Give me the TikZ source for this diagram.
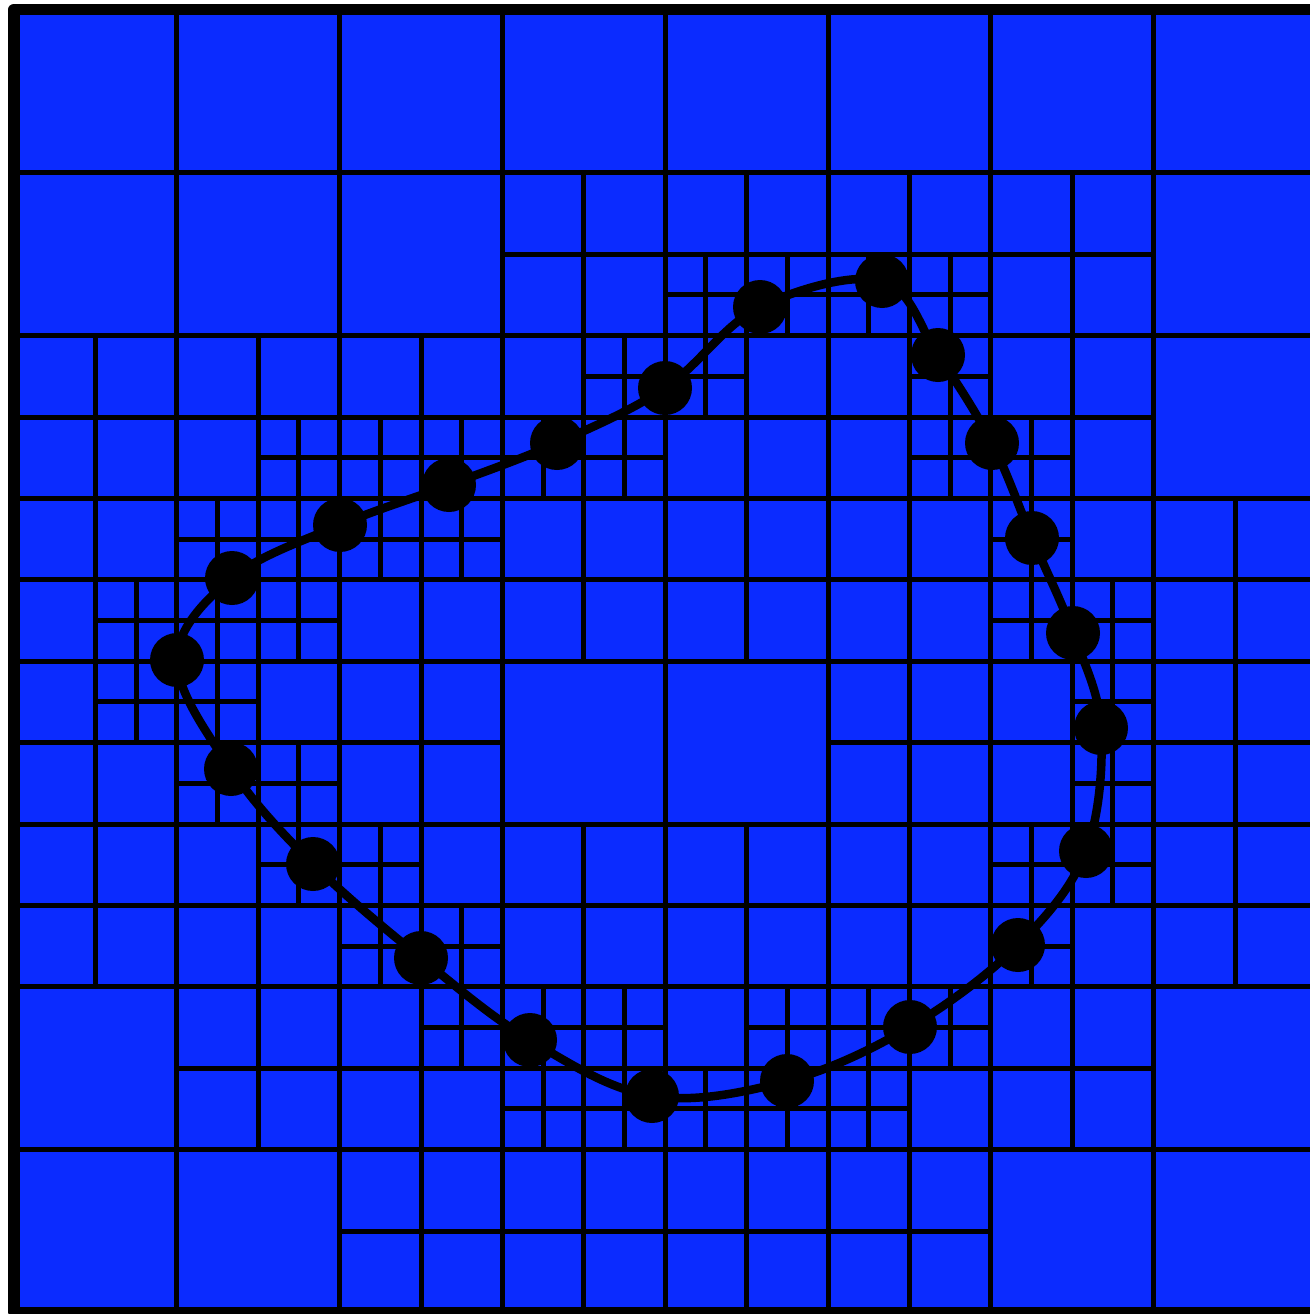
\documentclass[tikz,border=0pt]{standalone}
\definecolor{qblue}{RGB}{11,43,255}
\begin{document}
\begin{tikzpicture}[x=1pt,y=-1pt,
  gridline/.style={line width=5pt, black},
  dot/.style={circle, fill=black, draw=none, inner sep=0pt, minimum size=54pt},
  curveline/.style={line width=8.5pt, black, line join=round}]
\useasboundingbox (0,0) rectangle (1309,1314);
\def\U{162.8}
\def\H{81.4}
\fill[qblue] (14,10) rectangle (1316.4,1312.4);
% coarse grid
\foreach \i in {1,...,7}{
  \draw[gridline] ({14+\i*\U},10) -- ({14+\i*\U},1312.4);
  \draw[gridline] (14,{10+\i*\U}) -- (1316.4,{10+\i*\U});
}
% level-1 subdivisions (coarse cells split in four)
\foreach \c/\r in {3/1,4/1,5/1,6/1,
  0/2,1/2,2/2,3/2,4/2,5/2,6/2,
  0/3,1/3,2/3,3/3,4/3,5/3,6/3,7/3,
  0/4,1/4,2/4,5/4,6/4,7/4,
  0/5,1/5,2/5,3/5,4/5,5/5,6/5,7/5,
  1/6,2/6,3/6,4/6,5/6,6/6,
  2/7,3/7,4/7,5/7}{
  \draw[gridline] ({14+(\c+0.5)*\U},{10+\r*\U}) -- ++(0,\U)
                  ({14+\c*\U},{10+(\r+0.5)*\U}) -- ++(\U,0);
}
% level-2 subdivisions (half cells split in four)
\foreach \c/\r in {8/3,9/3,10/3,11/3,
  3/5,4/5,5/5,7/4,6/5,7/5,8/4,11/4,11/5,12/5,
  1/7,2/6,3/6,2/7,3/7,4/6,5/6,12/6,12/7,13/7,
  1/8,2/8,2/9,3/9,13/8,13/9,
  3/10,4/10,4/11,5/11,12/10,13/10,12/11,
  5/12,6/12,7/12,6/13,7/13,9/12,8/13,9/13,10/12,11/12,10/13}{
  \draw[gridline] ({14+(\c+0.5)*\H},{10+\r*\H}) -- ++(0,\H)
                  ({14+\c*\H},{10+(\r+0.5)*\H}) -- ++(\H,0);
}
% outer frame
\draw[line width=11.5pt, line join=round] (14,9.5) rectangle (1316.4,1312.4);
% points on the curve
\node[dot] (n1)  at (177,660) {};
\node[dot] (n2)  at (232,578) {};
\node[dot] (n3)  at (340,525) {};
\node[dot] (n4)  at (449,485) {};
\node[dot] (n5)  at (557,443) {};
\node[dot] (n6)  at (665,388) {};
\node[dot] (n7)  at (760,307) {};
\node[dot] (n8)  at (882,281) {};
\node[dot] (n9)  at (938,355) {};
\node[dot] (n10) at (992,443) {};
\node[dot] (n11) at (1032,538) {};
\node[dot] (n12) at (1073,633) {};
\node[dot] (n13) at (1101,728) {};
\node[dot] (n14) at (1086,851) {};
\node[dot] (n15) at (1018,945) {};
\node[dot] (n16) at (910,1027) {};
\node[dot] (n17) at (787,1081) {};
\node[dot] (n18) at (652,1096) {};
\node[dot] (n19) at (530,1040) {};
\node[dot] (n20) at (421,958) {};
\node[dot] (n21) at (313,864) {};
\node[dot] (n22) at (231,769) {};
\draw[curveline] plot[smooth cycle, tension=0.6] coordinates {
  (n1.center) (n2.center) (n3.center) (n4.center) (n5.center) (n6.center)
  (n7.center) (n8.center) (n9.center) (n10.center) (n11.center) (n12.center)
  (n13.center) (n14.center) (n15.center) (n16.center) (n17.center) (n18.center)
  (n19.center) (n20.center) (n21.center) (n22.center)};
\end{tikzpicture}
\end{document}
